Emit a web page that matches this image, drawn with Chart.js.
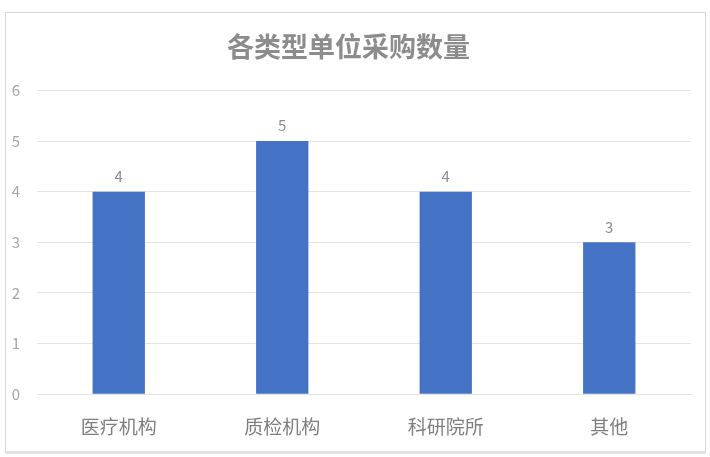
<!DOCTYPE html>
<html>
<head>
<meta charset="utf-8">
<script src="https://cdn.jsdelivr.net/npm/chart.js@4"></script>
<style>
    body { margin: 0; background: #fff; }
    #box { position: absolute; left: 5px; top: 12px; width: 699px; height: 438px; border: 1px solid #d9d9d9; border-bottom: 3px solid #e3e3e3; }
</style>
</head>
<body>
<div id="box"><canvas id="chart" width="699" height="438"></canvas></div>
<script>
// chart data
const categories = ['医疗机构', '质检机构', '科研院所', '其他'];
const purchaseCounts = [4, 5, 4, 3];
const yTicks = [0, 1, 2, 3, 4, 5, 6];

const fontFamily = '"Noto Sans CJK SC", "Noto Sans", sans-serif';

// draw value above each bar
const valueLabels = {
    id: 'valueLabels',
    afterDatasetsDraw(chart) {
        const ctx = chart.ctx;
        const meta = chart.getDatasetMeta(0);
        ctx.save();
        ctx.font = '15px ' + fontFamily;
        ctx.fillStyle = '#8c8c8c';
        ctx.textAlign = 'center';
        ctx.textBaseline = 'bottom';
        meta.data.forEach((bar, i) => {
            ctx.fillText(String(purchaseCounts[i]), bar.x, bar.y - 8);
        });
        ctx.restore();
    }
};

const ctx = document.getElementById('chart').getContext('2d');
new Chart(ctx, {
    type: 'bar',
    data: {
        labels: categories,
        datasets: [{
            data: purchaseCounts,
            backgroundColor: '#4472c4',
            categoryPercentage: 1,
            barPercentage: 0.32
        }]
    },
    options: {
        responsive: false,
        animation: false,
        layout: { padding: { left: 0, right: 14, top: 8, bottom: 0 } },
        plugins: {
            legend: { display: false },
            tooltip: { enabled: false },
            title: {
                display: true,
                text: '各类型单位采购数量',
                color: '#8c8c8c',
                font: { family: fontFamily, size: 27, weight: 'bold' },
                padding: { top: 10, bottom: 27 }
            }
        },
        scales: {
            y: {
                min: 0,
                max: 6,
                afterBuildTicks: axis => { axis.ticks = yTicks.map(v => ({ value: v })); },
                afterFit: axis => { axis.width = 31; },
                grid: { color: '#e3e3e3', drawTicks: false },
                border: { display: false },
                ticks: { color: '#a6a6a6', padding: 17, font: { family: fontFamily, size: 15 } }
            },
            x: {
                grid: { display: false },
                border: { color: '#e3e3e3' },
                ticks: { color: '#7f7f7f', padding: 13, font: { family: fontFamily, size: 19 } }
            }
        }
    },
    plugins: [valueLabels]
});
</script>
</body>
</html>
